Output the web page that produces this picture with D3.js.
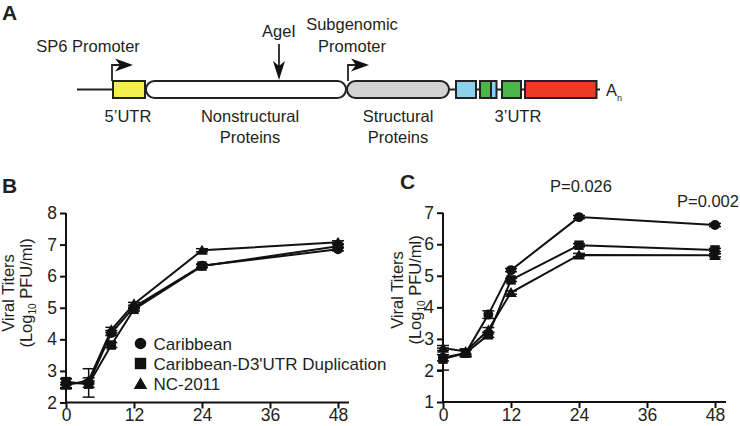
<!DOCTYPE html>
<html><head><meta charset="utf-8">
<script src="https://cdn.jsdelivr.net/npm/d3@7"></script>
<style>body{margin:0;background:#fff}svg{display:block}text{font-family:Arial,"Liberation Sans",Helvetica,sans-serif;fill:#231f20}</style>
</head><body><svg id="c" width="740" height="426"></svg>
<script>
// ---- data ----
const hours = [0, 4, 8, 12, 24, 48];
const xTicks = [0, 12, 24, 36, 48];
const yTicksB = [2, 3, 4, 5, 6, 7, 8];
const yTicksC = [1, 2, 3, 4, 5, 6, 7];
const seriesNames = ["Caribbean", "Caribbean-D3'UTR Duplication", "NC-2011"];
// Panel B
const bCaribbean   = [2.60, 2.62, 4.20, 5.02, 6.33, 6.85];
const bDuplication = [2.66, 2.58, 3.82, 4.95, 6.32, 6.95];
const bNC2011      = [2.55, 2.70, 4.30, 5.12, 6.82, 7.07];
const bCaribbeanErr   = [0.15, 0.45, 0.08, 0.05, 0.05, 0.05];
const bDuplicationErr = [0.10, 0.10, 0.08, 0.05, 0.05, 0.05];
const bNC2011Err      = [0.08, 0.08, 0.08, 0.05, 0.05, 0.05];
// Panel C
const cCaribbean   = [2.40, 2.55, 3.77, 5.18, 6.86, 6.61];
const cDuplication = [2.36, 2.55, 3.13, 4.87, 5.97, 5.82];
const cNC2011      = [2.71, 2.60, 3.28, 4.47, 5.66, 5.65];
const cCaribbeanErr   = [0.10, 0.12, 0.12, 0.05, 0.05, 0.05];
const cDuplicationErr = [0.35, 0.10, 0.08, 0.05, 0.05, 0.05];
const cNC2011Err      = [0.08, 0.08, 0.08, 0.05, 0.05, 0.05];
const pLabels = [{hour: 24, text: "P=0.026"}, {hour: 48, text: "P=0.002"}];

const svg = d3.select("#c");
const FONT = 16.5;

// ---- Panel A: genome diagram ----
const A = svg.append("g");
A.append("text").attr("x", 2).attr("y", 20).attr("font-size", 21).attr("font-weight", "bold").text("A");
const gy = 89.5, gh = 17;
A.append("line").attr("x1", 77).attr("x2", 113).attr("y1", gy).attr("y2", gy).attr("stroke", "#222").attr("stroke-width", 2);
A.append("line").attr("x1", 449).attr("x2", 600).attr("y1", gy).attr("y2", gy).attr("stroke", "#222").attr("stroke-width", 2);
const boxes = [
  {x: 113, w: 32, fill: "#f4ef4f", r: 0},
  {x: 146, w: 200, fill: "#ffffff", r: 8.5},
  {x: 347, w: 102, fill: "#d3d3d3", r: 8.5},
  {x: 456, w: 20, fill: "#8dd0ea", r: 0},
  {x: 480, w: 11, fill: "#4ab648", r: 0},
  {x: 491, w: 5.5, fill: "#8dd0ea", r: 0},
  {x: 502, w: 19, fill: "#4ab648", r: 0},
  {x: 525, w: 71.5, fill: "#ec3a24", r: 0}
];
A.selectAll("rect.g").data(boxes).join("rect").attr("class", "g")
  .attr("x", d => d.x).attr("y", gy - gh / 2).attr("width", d => d.w).attr("height", gh)
  .attr("rx", d => d.r).attr("fill", d => d.fill).attr("stroke", "#222").attr("stroke-width", 2);
A.append("text").attr("x", 606).attr("y", 96).attr("font-size", FONT).text("A");
A.append("text").attr("x", 617).attr("y", 101).attr("font-size", 9).text("n");
function promoter(x, top) {
  A.append("path").attr("d", `M${x},${gy - gh / 2}V${top}H${x + 10}`).attr("fill", "none").attr("stroke", "#222").attr("stroke-width", 1.8);
  A.append("path").attr("d", `M${x + 21},${top}L${x + 3},${top - 6.5}L${x + 8},${top}L${x + 3},${top + 6.5}Z`).attr("fill", "#111");
}
promoter(112, 65);
promoter(348, 65);
A.append("line").attr("x1", 279).attr("x2", 279).attr("y1", 44).attr("y2", 70).attr("stroke", "#222").attr("stroke-width", 1.8);
A.append("path").attr("d", `M279,80L273,61L279,66L285,61Z`).attr("fill", "#111");
const labelsA = [
  {x: 88, y: 52, t: "SP6 Promoter"},
  {x: 279, y: 37, t: "AgeI"},
  {x: 352, y: 30, t: "Subgenomic"},
  {x: 352, y: 52, t: "Promoter"},
  {x: 128, y: 122, t: "5\u2019UTR"},
  {x: 250, y: 122, t: "Nonstructural"},
  {x: 250, y: 143, t: "Proteins"},
  {x: 398, y: 122, t: "Structural"},
  {x: 398, y: 143, t: "Proteins"},
  {x: 518, y: 122, t: "3\u2019UTR"}
];
A.selectAll("text.l").data(labelsA).join("text").attr("class", "l")
  .attr("x", d => d.x).attr("y", d => d.y).attr("text-anchor", "middle").attr("font-size", FONT).text(d => d.t);

// ---- Panels B, C ----
const symbols = [d3.symbolCircle, d3.symbolSquare, d3.symbolTriangle];
const symSizes = [78, 90, 60];

function panel(opt) {
  const g = svg.append("g");
  const x = d3.scaleLinear([0, 48], opt.xr);
  const y = d3.scaleLinear(opt.yd, opt.yr);
  g.append("text").attr("x", opt.letterX).attr("y", opt.letterY).attr("font-size", 21).attr("font-weight", "bold").text(opt.letter);
  const xa = g.append("g").attr("transform", `translate(0,${opt.yr[0]})`)
    .call(d3.axisBottom(x).tickValues(xTicks).tickSize(6).tickPadding(0.5).tickFormat(d3.format("d")));
  xa.select(".domain").remove();
  xa.append("line").attr("x1", opt.xr[0]).attr("x2", opt.xr[1] + 11).attr("stroke", "#111").attr("stroke-width", 2);
  const ya = g.append("g").attr("transform", `translate(${opt.xr[0]},0)`)
    .call(d3.axisLeft(y).tickValues(opt.yTicks).tickSize(6).tickPadding(3).tickFormat(d3.format("d")));
  ya.select(".domain").remove();
  ya.append("line").attr("y1", opt.yr[0]).attr("y2", opt.yr[1]).attr("stroke", "#111").attr("stroke-width", 2);
  [xa, ya].forEach(a => {
    a.selectAll(".tick line").attr("stroke", "#111").attr("stroke-width", 2);
    a.selectAll(".tick text").attr("font-size", 17.5).attr("fill", "#231f20").attr("font-family", "Arial, 'Liberation Sans', sans-serif");
  });
  const t = g.append("g").attr("transform", `translate(${opt.titleX},${opt.titleY}) rotate(-90)`);
  t.append("text").attr("y", 0).attr("text-anchor", "middle").attr("font-size", FONT).text("Viral Titers");
  const t2 = t.append("text").attr("y", 18).attr("text-anchor", "middle").attr("font-size", FONT);
  t2.append("tspan").text("(Log");
  t2.append("tspan").attr("font-size", 10).attr("dy", 4).text("10");
  t2.append("tspan").attr("dy", -4).text(" PFU/ml)");
  const line = d3.line().x((d, i) => x(hours[i])).y(d => y(d));
  opt.series.forEach((s, k) => {
    const sg = g.append("g");
    sg.append("path").attr("d", line(s.v)).attr("fill", "none").attr("stroke", "#111").attr("stroke-width", 2);
    s.v.forEach((v, i) => {
      const cx = x(hours[i]), e = s.e[i];
      sg.append("line").attr("x1", cx).attr("x2", cx).attr("y1", y(v - e)).attr("y2", y(v + e)).attr("stroke", "#111").attr("stroke-width", 1.5);
      [v - e, v + e].forEach(ev => sg.append("line").attr("x1", cx - 6).attr("x2", cx + 6).attr("y1", y(ev)).attr("y2", y(ev)).attr("stroke", "#111").attr("stroke-width", 1.5));
    });
    sg.selectAll("path.m").data(s.v).join("path").attr("class", "m")
      .attr("transform", (d, i) => `translate(${x(hours[i])},${y(d) + (k === 2 ? 1.2 : 0)})`)
      .attr("d", d3.symbol(symbols[k], symSizes[k])).attr("fill", "#111");
  });
  return {g, x, y};
}

const B = panel({letter: "B", letterX: 2, letterY: 193, xr: [66, 338], yd: [2, 8], yr: [402.5, 213], yTicks: yTicksB, titleX: 14, titleY: 293,
  series: [{v: bCaribbean, e: bCaribbeanErr}, {v: bDuplication, e: bDuplicationErr}, {v: bNC2011, e: bNC2011Err}]});
const C = panel({letter: "C", letterX: 400, letterY: 189, xr: [443, 715], yd: [1, 7], yr: [402, 212.7], yTicks: yTicksC, titleX: 403, titleY: 290,
  series: [{v: cCaribbean, e: cCaribbeanErr}, {v: cDuplication, e: cDuplicationErr}, {v: cNC2011, e: cNC2011Err}]});

// legend in B
const lg = svg.append("g").attr("transform", "translate(140.5,343.5)");
seriesNames.forEach((n, k) => {
  lg.append("path").attr("transform", `translate(0,${k * 20 + (k === 2 ? 1.5 : 0)})`).attr("d", d3.symbol(symbols[k], [105, 130, 80][k])).attr("fill", "#111");
  lg.append("text").attr("x", 13).attr("y", k * 20 + 6.5).attr("font-size", 17).text(n);
});

// p-values in C
C.g.selectAll("text.p").data(pLabels).join("text").attr("class", "p")
  .attr("x", d => d.hour === 48 ? 708 : C.x(d.hour) + 2).attr("y", d => d.hour === 48 ? 207 : 192)
  .attr("text-anchor", "middle").attr("font-size", FONT).text(d => d.text);
</script></body></html>
